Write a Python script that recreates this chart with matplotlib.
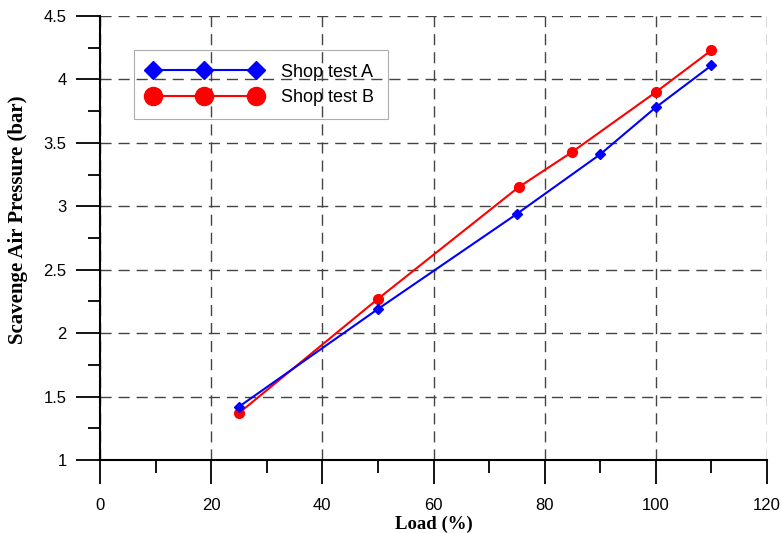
import numpy as np
from matplotlib import pyplot as plt
from matplotlib.lines import Line2D
from matplotlib.ticker import MultipleLocator

# data
load_a = [25, 50, 75, 90, 100, 110]
press_a = [1.42, 2.19, 2.94, 3.41, 3.78, 4.11]
load_b = [25, 50, 75.3, 85, 100, 110]
press_b = [1.37, 2.27, 3.15, 3.43, 3.90, 4.23]

SANS = "Liberation Sans"
SERIF = "Liberation Serif"

fig = plt.figure(figsize=(7.81, 5.33), dpi=100)
ax = fig.add_axes([100 / 781, 73 / 533, 667 / 781, 444 / 533])

ax.plot(load_a, press_a, color="blue", lw=1.5, marker="D", ms=5, zorder=5)
ax.plot(load_b, press_b, color="red", lw=1.5, marker="o", ms=7, zorder=4)

ax.set_xlim(0, 120)
ax.set_ylim(1, 4.5)
ax.xaxis.set_major_locator(MultipleLocator(20))
ax.xaxis.set_minor_locator(MultipleLocator(10))
ax.yaxis.set_major_locator(MultipleLocator(0.5))
ax.yaxis.set_minor_locator(MultipleLocator(0.25))
ax.set_yticks(np.arange(1, 4.51, 0.5))
ax.set_yticklabels(["1", "1.5", "2", "2.5", "3", "3.5", "4", "4.5"])

for s in ("top", "right"):
    ax.spines[s].set_visible(False)
for s in ("left", "bottom"):
    ax.spines[s].set_linewidth(1.5)

ax.tick_params(which="major", direction="out", length=17, width=1.3,
               labelsize=12)
ax.tick_params(axis="x", which="major", pad=10)
ax.tick_params(axis="y", which="major", pad=7)
ax.tick_params(which="minor", direction="out", length=9, width=1.3)
for lab in ax.get_xticklabels() + ax.get_yticklabels():
    lab.set_fontfamily(SANS)

ax.grid(True, which="major", color="#444444", lw=1.0, ls=(0, (8, 5)))
ax.set_axisbelow(True)

ax.set_xlabel("Load (%)", fontfamily=SERIF, fontweight="bold", fontsize=13.5,
              labelpad=2)
ax.set_ylabel("Scavenge Air Pressure (bar)", fontfamily=SERIF,
              fontweight="bold", fontsize=15)
ax.yaxis.set_label_coords(-0.108, 0.54)

handles = [
    Line2D([], [], color="blue", lw=1.5, marker="D", ms=9),
    Line2D([], [], color="red", lw=1.5, marker="o", ms=13),
]
leg = ax.legend(handles, ["Shop test A", "Shop test B"], loc="upper left",
                bbox_to_anchor=(0.051, 0.923), borderaxespad=0, numpoints=3,
                handlelength=6.3, handletextpad=1.1, fancybox=False,
                facecolor="none", edgecolor="#999999", labelspacing=0.45,
                prop={"family": SANS, "size": 13}, borderpad=0.75)
leg.get_frame().set_linewidth(0.8)

fig.savefig("out.png", dpi=100)
